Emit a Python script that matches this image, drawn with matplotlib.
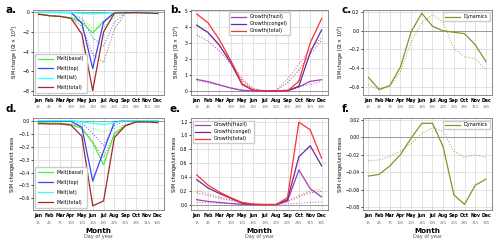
import numpy as np
import matplotlib
matplotlib.use('Agg')
import matplotlib.pyplot as plt

# Monate und Tag des Jahres
months = ['Jan', 'Feb', 'Mar', 'Apr', 'May', 'Jun', 'Jul', 'Aug', 'Sep', 'Oct', 'Nov', 'Dec']
doy = [15, 45, 75, 105, 135, 165, 195, 225, 255, 285, 315, 345]

# a. Schmelzen [Gt x 10^3] (durchgezogen / gepunktet)
a_basal = [-0.17, -0.33, -0.4, -0.55, -1.0, -2.1, -0.9, -0.05, -0.02, -0.02, -0.05, -0.1]
a_top = [0, 0, 0, 0, -1.1, -5.7, -1.0, 0, 0, 0, 0, 0]
a_lat = [-0.01, -0.01, -0.01, -0.02, -0.1, -0.15, -0.1, -0.02, -0.01, 0, 0, -0.01]
a_total = [-0.18, -0.34, -0.41, -0.6, -2.2, -7.95, -2.0, -0.07, -0.03, -0.02, -0.05, -0.11]
a_basal_d = [-0.17, -0.3, -0.38, -0.5, -0.8, -1.6, -1.5, -0.5, -0.05, -0.02, -0.05, -0.12]
a_top_d = [0, 0, 0, -0.1, -0.6, -2.6, -3.4, -1.0, -0.05, 0, 0, 0]
a_lat_d = [-0.01, -0.01, -0.01, -0.02, -0.05, -0.1, -0.15, -0.1, -0.02, 0, 0, -0.01]
a_total_d = [-0.18, -0.31, -0.39, -0.62, -1.45, -4.3, -5.1, -1.7, -0.1, -0.02, -0.05, -0.13]

# b. Wachstum [Gt x 10^3]
b_frazil = [0.72, 0.58, 0.38, 0.18, 0.03, 0, 0, 0, 0.02, 0.25, 0.6, 0.7]
b_congel = [4.1, 3.65, 2.85, 1.75, 0.4, 0.03, 0, 0, 0, 0.3, 2.4, 3.8]
b_total = [4.8, 4.25, 3.2, 1.9, 0.45, 0.05, 0, 0, 0, 0.6, 3.0, 4.5]
b_frazil_d = [0.65, 0.5, 0.35, 0.2, 0.08, 0.02, 0, 0, 0.1, 0.25, 0.4, 0.6]
b_congel_d = [3.5, 3.1, 2.5, 1.7, 0.65, 0.12, 0.01, 0.03, 0.5, 1.3, 2.3, 3.15]
b_total_d = [4.1, 3.6, 2.85, 1.9, 0.75, 0.15, 0.02, 0.05, 0.75, 1.65, 2.6, 3.3]

# c. Dynamik [Gt x 10^3]
c_dyn = [-0.5, -0.63, -0.59, -0.39, -0.01, 0.19, 0.05, 0.0, -0.015, -0.03, -0.15, -0.33]
c_dyn_d = [-0.58, -0.64, -0.6, -0.44, -0.12, 0.09, 0.175, 0.09, -0.19, -0.28, -0.3, -0.42]

# d. Schmelzen pro Masse
d_basal = [-0.015, -0.02, -0.02, -0.03, -0.06, -0.17, -0.34, -0.1, -0.04, -0.01, -0.005, -0.01]
d_top = [-0.005, -0.005, -0.005, -0.005, -0.05, -0.465, -0.235, -0.01, 0, 0, 0, 0]
d_lat = [0, 0, 0, 0, -0.01, -0.02, -0.03, -0.015, 0, 0, 0, 0]
d_total = [-0.023, -0.025, -0.025, -0.035, -0.12, -0.657, -0.62, -0.13, -0.04, -0.01, -0.01, -0.015]
d_basal_d = [-0.015, -0.018, -0.02, -0.025, -0.03, -0.06, -0.085, -0.06, -0.03, -0.01, -0.005, -0.01]
d_top_d = [0, 0, 0, 0, -0.02, -0.1, -0.19, -0.04, 0, 0, 0, 0]
d_lat_d = [0, 0, 0, 0, 0, -0.005, -0.01, -0.005, 0, 0, 0, 0]
d_total_d = [-0.02, -0.022, -0.024, -0.03, -0.05, -0.165, -0.285, -0.1, -0.03, -0.01, -0.008, -0.012]

# e. Wachstum pro Masse
e_frazil = [0.07, 0.045, 0.03, 0.015, 0.005, 0, 0, 0, 0.05, 0.5, 0.23, 0.11]
e_congel = [0.36, 0.24, 0.16, 0.09, 0.02, 0, 0, 0, 0.07, 0.69, 0.85, 0.56]
e_total = [0.43, 0.28, 0.18, 0.1, 0.03, 0.005, 0, 0, 0.1, 1.19, 1.08, 0.67]
e_frazil_d = [0.03, 0.025, 0.02, 0.015, 0.005, 0, 0, 0, 0.01, 0.02, 0.03, 0.04]
e_congel_d = [0.17, 0.13, 0.09, 0.06, 0.025, 0.005, 0, 0, 0.04, 0.11, 0.17, 0.19]
e_total_d = [0.2, 0.16, 0.11, 0.07, 0.03, 0.01, 0, 0, 0.05, 0.13, 0.2, 0.22]

# f. Dynamik pro Masse
f_dyn = [-0.0445, -0.0426, -0.033, -0.02, -0.001, 0.016, 0.016, -0.011, -0.066, -0.077, -0.055, -0.048]
f_dyn_d = [-0.027, -0.026, -0.022, -0.016, -0.007, 0.004, 0.011, 0.007, -0.016, -0.023, -0.02, -0.023]

col_basal = '#44ee44'
col_top = '#3344ff'
col_lat = '#33ffff'
col_total = '#a02828'
col_frazil = '#a040b0'
col_congel = '#6a2a9a'
col_gtotal = '#ff3030'
col_dyn = '#8f8f2a'

fs_tick = 3.3
fs_leg = 3.5

fig = plt.figure(figsize=(5.0, 2.46), dpi=100)

lefts = [0.066, 0.382, 0.726]
widths = [0.262, 0.274, 0.258]
rows = [(0.614, 0.3455), (0.146, 0.374)]

axes = []
for r, (b, h) in enumerate(rows):
    for c in range(3):
        axes.append(fig.add_axes([lefts[c], b, widths[c], h]))


def style(ax, bottom_row):
    ax.set_xlim(0, 362)
    ax.set_xticks(doy)
    ax.set_xticklabels(months, fontsize=fs_tick, fontweight='bold')
    ax.tick_params(axis='y', labelsize=fs_tick, length=1.5, width=0.5, pad=1)
    ax.tick_params(axis='x', length=0, pad=2)
    ax.grid(True, color='#dddddd', lw=0.6)
    ax.set_axisbelow(True)
    ax.axhline(0, color='#999999', lw=0.7, zorder=1)
    for s in ax.spines.values():
        s.set_color('#777777')
        s.set_linewidth(0.6)
    sec = ax.secondary_xaxis(0)
    sec.set_xticks(doy)
    sec.set_xticklabels([str(d) for d in doy], fontsize=2.8, color='#777777')
    sec.tick_params(length=0, pad=7.5)
    sec.spines['bottom'].set_visible(False)
    if bottom_row:
        ax.text(0.5, -0.225, 'Month', transform=ax.transAxes, ha='center', va='center',
                fontsize=5.2, fontweight='bold')
        ax.text(0.5, -0.29, 'Day of year', transform=ax.transAxes, ha='center', va='center',
                fontsize=3.6, color='#555555')


def pair(ax, y, yd, col, lab, lw=0.9):
    ax.plot(doy, y, color=col, lw=lw, label=lab, zorder=3)
    ax.plot(doy, yd, color=col, lw=0.75, ls=':', alpha=0.75, zorder=2)


def leg(ax, loc, **kw):
    ax.legend(loc=loc, fontsize=fs_leg, frameon=True, handlelength=3, framealpha=1,
              edgecolor='#cccccc', **kw)


ax = axes[0]
pair(ax, a_basal, a_basal_d, col_basal, 'Melt(basal)')
pair(ax, a_top, a_top_d, col_top, 'Melt(top)')
pair(ax, a_lat, a_lat_d, col_lat, 'Melt(lat)')
pair(ax, a_total, a_total_d, col_total, 'Melt(total)')
ax.set_ylim(-8.4, 0.25)
ax.set_yticks([0, -2, -4, -6, -8])
ax.set_ylabel('SIM change [Gt × 10$^3$]', fontsize=3.3, labelpad=2)
leg(ax, 'lower left', labelspacing=0.9, borderpad=0.6)

ax = axes[1]
pair(ax, b_frazil, b_frazil_d, col_frazil, 'Growth(frazil)')
pair(ax, b_congel, b_congel_d, col_congel, 'Growth(congel)')
pair(ax, b_total, b_total_d, col_gtotal, 'Growth(total)')
ax.set_ylim(-0.25, 5.05)
ax.set_yticks([0, 1, 2, 3, 4, 5])
ax.set_ylabel('SIM change [Gt × 10$^3$]', fontsize=3.3, labelpad=2)
leg(ax, 'upper center', labelspacing=0.4)

ax = axes[2]
pair(ax, c_dyn, c_dyn_d, col_dyn, 'Dynamics')
ax.set_ylim(-0.69, 0.225)
ax.set_yticks([0.2, 0.0, -0.2, -0.4, -0.6])
ax.set_ylabel('SIM change [Gt × 10$^3$]', fontsize=3.3, labelpad=2)
leg(ax, 'upper right')

ax = axes[3]
pair(ax, d_basal, d_basal_d, col_basal, 'Melt(basal)')
pair(ax, d_top, d_top_d, col_top, 'Melt(top)')
pair(ax, d_lat, d_lat_d, col_lat, 'Melt(lat)')
pair(ax, d_total, d_total_d, col_total, 'Melt(total)')
ax.set_ylim(-0.69, 0.02)
ax.set_yticks([0.0, -0.1, -0.2, -0.3, -0.4, -0.5, -0.6])
ax.set_ylabel('SIM change/unit mass', fontsize=3.6, labelpad=2)
leg(ax, 'lower left', labelspacing=1.0, borderpad=0.6)

ax = axes[4]
pair(ax, e_frazil, e_frazil_d, col_frazil, 'Growth(frazil)')
pair(ax, e_congel, e_congel_d, col_congel, 'Growth(congel)')
pair(ax, e_total, e_total_d, col_gtotal, 'Growth(total)')
ax.set_ylim(-0.08, 1.25)
ax.set_yticks([0.0, 0.2, 0.4, 0.6, 0.8, 1.0, 1.2])
ax.set_ylabel('SIM change/unit mass', fontsize=3.6, labelpad=2)
leg(ax, 'upper left', labelspacing=0.4)

ax = axes[5]
pair(ax, f_dyn, f_dyn_d, col_dyn, 'Dynamics')
ax.set_ylim(-0.0835, 0.022)
ax.set_yticks([0.02, 0.0, -0.02, -0.04, -0.06, -0.08])
ax.set_ylabel('SIM change/unit mass', fontsize=3.6, labelpad=2)
leg(ax, 'upper right')

for i, ax in enumerate(axes):
    style(ax, i >= 3)

# Panel-Buchstaben
lab_pos = [(-0.21, 1.0), (-0.155, 1.0), (-0.165, 1.0), (-0.21, 1.1), (-0.155, 1.1), (-0.165, 1.1)]
for ax, lab, (px, py) in zip(axes, ['a.', 'b.', 'c.', 'd.', 'e.', 'f.'], lab_pos):
    ax.text(px, py, lab, transform=ax.transAxes, ha='left', va='center',
            fontsize=7.5, fontweight='bold')

fig.savefig('out.png', dpi=100)
